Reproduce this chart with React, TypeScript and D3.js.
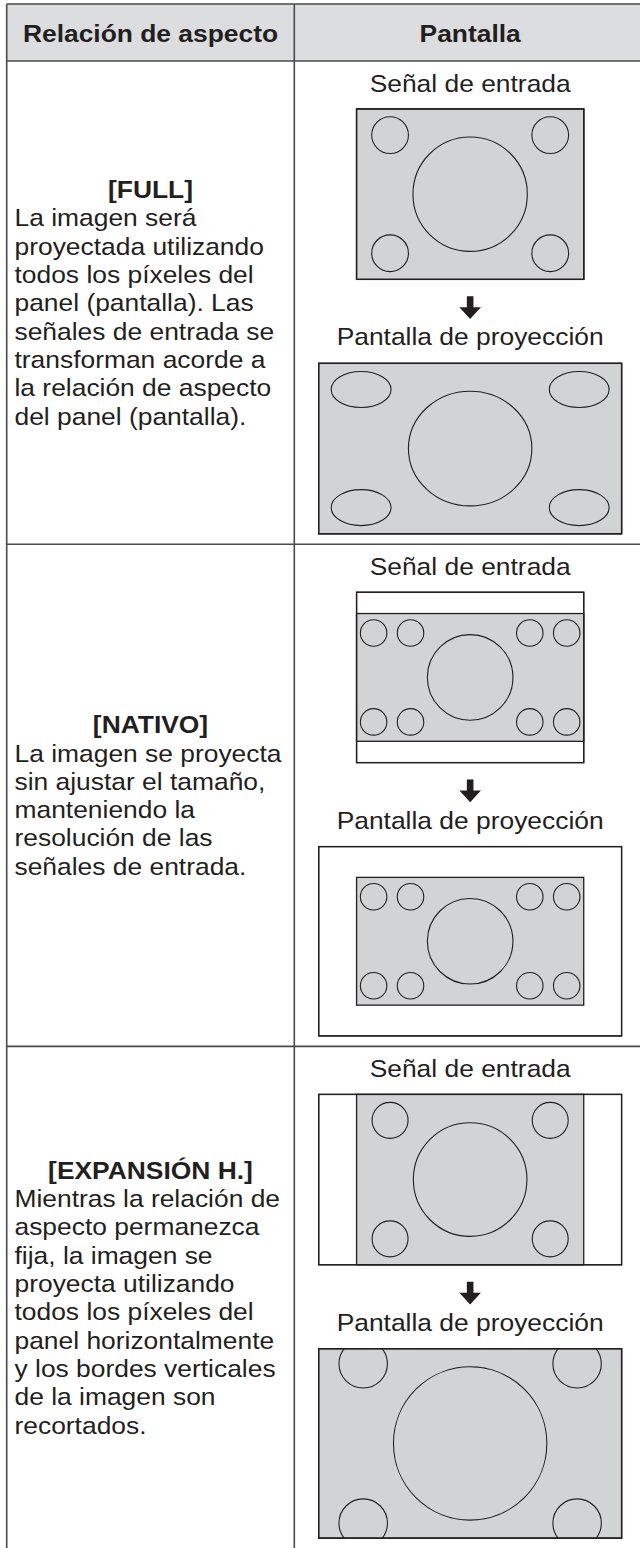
import * as d3 from "d3";

const headers = ["Relación de aspecto", "Pantalla"];
const modeTitles = ["[FULL]", "[NATIVO]", "[EXPANSIÓN H.]"];
const fullText = [
  "La imagen será",
  "proyectada utilizando",
  "todos los píxeles del",
  "panel (pantalla). Las",
  "señales de entrada se",
  "transforman acorde a",
  "la relación de aspecto",
  "del panel (pantalla).",
];
const nativoText = [
  "La imagen se proyecta",
  "sin ajustar el tamaño,",
  "manteniendo la",
  "resolución de las",
  "señales de entrada.",
];
const expansionText = [
  "Mientras la relación de",
  "aspecto permanezca",
  "fija, la imagen se",
  "proyecta utilizando",
  "todos los píxeles del",
  "panel horizontalmente",
  "y los bordes verticales",
  "de la imagen son",
  "recortados.",
];
const modeTexts = [fullText, nativoText, expansionText];
const inputLabel = "Señal de entrada";
const outputLabel = "Pantalla de proyección";

// screen sizes in panel units (panel = 16 x 9)
const inputFrames = [[12, 9], [12, 9], [16, 9]];
const inputPictures = [[12, 9], [12, 6.75], [12, 9]];
const outputFrames = [[16, 9], [16, 10], [16, 10]];
const outputPictures = [[16, 9], [12, 6.75], [16, 10]];

// ellipses [cx, cy, rx, ry] in panel units, centred on the screen
const fullIn = [
  [0, 0, 3.02, 3.02],
  [-4.23, -3.12, 0.97, 0.97], [4.23, -3.12, 0.97, 0.97],
  [-4.23, 3.12, 0.97, 0.97], [4.23, 3.12, 0.97, 0.97],
];
const fullOut = [
  [0, 0, 3.26, 3.03],
  [-5.76, -3.12, 1.58, 0.95], [5.76, -3.12, 1.58, 0.95],
  [-5.76, 3.12, 1.58, 0.95], [5.76, 3.12, 1.58, 0.95],
];
const nativoIn = [
  [0, 0, 2.26, 2.26],
  [-5.1, -2.35, 0.7, 0.7], [-3.15, -2.35, 0.7, 0.7], [3.15, -2.35, 0.7, 0.7], [5.1, -2.35, 0.7, 0.7],
  [-5.1, 2.35, 0.7, 0.7], [-3.15, 2.35, 0.7, 0.7], [3.15, 2.35, 0.7, 0.7], [5.1, 2.35, 0.7, 0.7],
];
const nativoOut = nativoIn;
const expansionIn = [
  [0, 0, 3.0, 3.0],
  [-4.23, -3.13, 0.95, 0.95], [4.23, -3.13, 0.95, 0.95],
  [-4.23, 3.13, 0.95, 0.95], [4.23, 3.13, 0.95, 0.95],
];
const expansionOut = [
  [0, 0, 4.05, 4.05],
  [-5.65, -4.21, 1.28, 1.28], [5.65, -4.21, 1.28, 1.28],
  [-5.65, 4.21, 1.28, 1.28], [5.65, 4.21, 1.28, 1.28],
];
const inputShapes = [fullIn, nativoIn, expansionIn];
const outputShapes = [fullOut, nativoOut, expansionOut];

const W = 640;
const H = 1548;
const INK = "#231f20";
const LINE = "#4a4a4a";
const GREY = "#d1d3d4";
const HEAD = "#dcdddf";
const FONT = "'Liberation Sans', Arial, sans-serif";
const SX = 1.1;
const U = 18.93;

const T = { left: 6.7, mid: 294.3, right: 646, top: 4, head: 61 };
const diagX = (T.mid + T.right) / 2;
const textX = (T.left + T.mid) / 2;

function Txt({ x, y, s, size = 24, bold = false, anchor = "start" }: any) {
  return (
    <text
      transform={`translate(${x},${y}) scale(${SX},1)`}
      textAnchor={anchor}
      fontFamily={FONT}
      fontSize={size}
      fontWeight={bold ? 700 : 400}
      fill={INK}
    >
      {s}
    </text>
  );
}

function Screen({ id, cy, frame, pic, shapes }: any) {
  const x = d3.scaleLinear().domain([-8, 8]).range([diagX - 8 * U, diagX + 8 * U]);
  const y = d3.scaleLinear().domain([-5, 5]).range([cy - 5 * U, cy + 5 * U]);
  const fx = x(-frame[0] / 2), fy = y(-frame[1] / 2);
  const fw = x(frame[0] / 2) - fx, fh = y(frame[1] / 2) - fy;
  const px = x(-pic[0] / 2), py = y(-pic[1] / 2);
  const pw = x(pic[0] / 2) - px, ph = y(pic[1] / 2) - py;
  return (
    <g>
      <defs>
        <clipPath id={id}>
          <rect x={px} y={py} width={pw} height={ph} />
        </clipPath>
      </defs>
      <rect x={fx} y={fy} width={fw} height={fh} fill="#fff" stroke={INK} strokeWidth={1.3} />
      <rect x={px} y={py} width={pw} height={ph} fill={GREY} stroke={INK} strokeWidth={1.3} />
      <g clipPath={`url(#${id})`}>
        {shapes.map((d: number[], i: number) => (
          <ellipse
            key={i}
            cx={x(d[0])}
            cy={y(d[1])}
            rx={x(d[2]) - x(0)}
            ry={y(d[3]) - y(0)}
            fill="none"
            stroke={INK}
            strokeWidth={1.1}
          />
        ))}
      </g>
      <rect x={fx} y={fy} width={fw} height={fh} fill="none" stroke={INK} strokeWidth={1.3} />
    </g>
  );
}

const arrowLine = d3.line();
function Arrow({ top }: { top: number }) {
  const pts: [number, number][] = [
    [-3.3, 0], [3.3, 0], [3.3, 11], [10.8, 11], [0, 22.7], [-10.8, 11], [-3.3, 11],
  ].map(([a, b]) => [diagX + a, top + b]);
  return <path d={arrowLine(pts) + "Z"} fill={INK} />;
}

export default function App() {
  // build row layout from the screen sizes
  const rows: any[] = [];
  let rowTop = T.head;
  modeTitles.forEach((_, i) => {
    const inTop = rowTop + 48;
    const inH = inputFrames[i][1] * U;
    const inBottom = inTop + inH;
    const outTop = inBottom + 84;
    const outH = outputFrames[i][1] * U;
    const rowBottom = outTop + outH + 10.5;
    rows.push({ rowTop, rowBottom, inTop, inH, inBottom, outTop, outH });
    rowTop = rowBottom;
  });

  const pitch = 28.3;

  return (
    <svg
      width={W}
      height={H}
      style={{ position: "absolute", left: 0, top: 0, background: "#fff" }}
    >
      <rect x={0} y={0} width={W} height={H} fill="#fff" />
      <rect x={T.left} y={T.top} width={T.right - T.left} height={T.head - T.top} fill={HEAD} />
      <Txt x={textX} y={41.7} s={headers[0]} bold anchor="middle" />
      <Txt x={diagX} y={41.7} s={headers[1]} bold anchor="middle" />

      {rows.map((r, i) => {
        const lines = [modeTitles[i], ...modeTexts[i]];
        const mid = (r.rowTop + r.rowBottom) / 2 + 8.7;
        const first = mid - ((lines.length - 1) / 2) * pitch;
        return (
          <g key={i}>
            {lines.map((s, j) =>
              j === 0 ? (
                <Txt key={j} x={textX} y={first} s={s} bold anchor="middle" />
              ) : (
                <Txt key={j} x={14.5} y={first + j * pitch} s={s} />
              )
            )}
            <Txt x={diagX} y={r.rowTop + 31} s={inputLabel} anchor="middle" />
            <Screen
              id={`in${i}`}
              cy={r.inTop + r.inH / 2}
              frame={inputFrames[i]}
              pic={inputPictures[i]}
              shapes={inputShapes[i]}
            />
            <Arrow top={r.inBottom + 17} />
            <Txt x={diagX} y={r.inBottom + 66} s={outputLabel} anchor="middle" />
            <Screen
              id={`out${i}`}
              cy={r.outTop + r.outH / 2}
              frame={outputFrames[i]}
              pic={outputPictures[i]}
              shapes={outputShapes[i]}
            />
          </g>
        );
      })}

      {/* table rules */}
      <g stroke={LINE} strokeWidth={1.6} fill="none">
        <line x1={T.left} x2={T.right} y1={T.top} y2={T.top} />
        <line x1={T.left} x2={T.right} y1={T.head} y2={T.head} />
        {rows.slice(0, -1).map((r, i) => (
          <line key={i} x1={T.left} x2={T.right} y1={r.rowBottom} y2={r.rowBottom} />
        ))}
        <line x1={T.left} x2={T.left} y1={T.top} y2={H} />
        <line x1={T.mid} x2={T.mid} y1={T.top} y2={H} />
      </g>
    </svg>
  );
}
